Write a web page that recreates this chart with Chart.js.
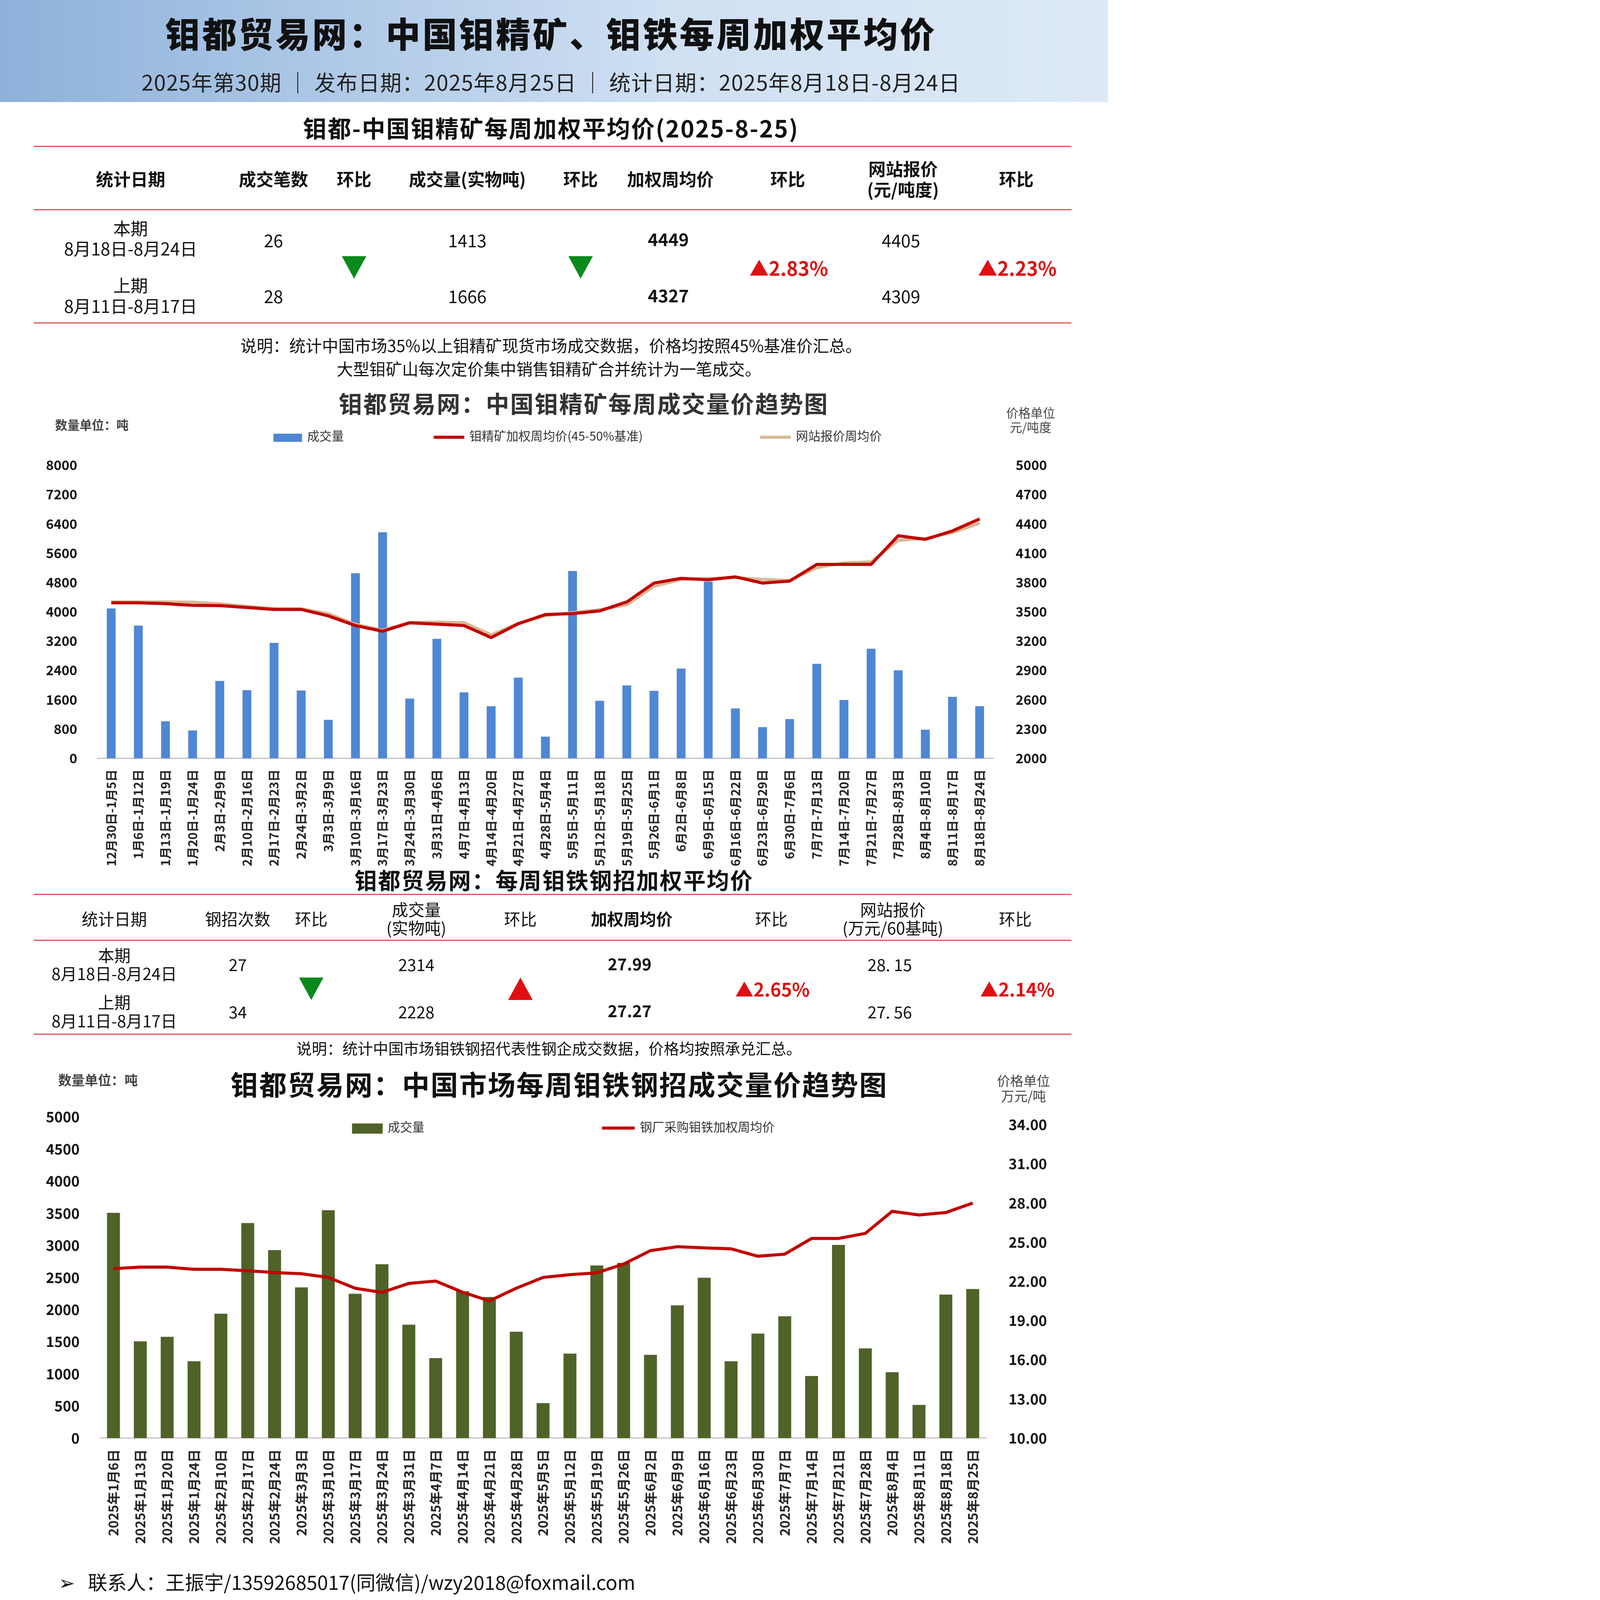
<!DOCTYPE html>
<html><head><meta charset="utf-8">
<script src="https://cdn.jsdelivr.net/npm/chart.js@4"></script>
<style>
html,body{margin:0;padding:0;background:#fff;overflow:hidden;}
#page{position:absolute;left:0;top:0;width:1086px;height:1568px;transform-origin:0 0;font-family:"Noto Sans CJK SC",sans-serif;color:#111;}
#head{position:absolute;left:0;top:0;width:1086px;height:100px;background:linear-gradient(90deg,#8db1da,#cfe0f3 60%,#dde9f6);}
.t{position:absolute;white-space:nowrap;transform:translate(-50%,-50%);line-height:1.15;text-align:center;}
.hl{position:absolute;left:33px;width:1017px;height:0;border-top:1.5px solid #d04040;}
.box{position:absolute;}
.box canvas{width:100%!important;height:100%!important;}
.lg{position:absolute;font-size:12px;color:#333;white-space:nowrap;}
.sw{display:inline-block;vertical-align:middle;margin-right:5px;}
</style></head><body>
<div id="page">
  <div id="head"></div>
  <div class="hl" style="top:143px"></div><div class="hl" style="top:205px"></div><div class="hl" style="top:316px"></div>
  <div class="hl" style="top:876px"></div><div class="hl" style="top:921px"></div><div class="hl" style="top:1013px"></div>
  <div class="box" style="left:33px;top:434px;width:1017px;height:418px"><canvas id="c1"></canvas></div>
  <div class="box" style="left:33px;top:1072px;width:1017px;height:444px"><canvas id="c2"></canvas></div>
</div>
<script>
// 钼精矿周度数据
const weeks1 = ['12月30日-1月5日','1月6日-1月12日','1月13日-1月19日','1月20日-1月24日','2月3日-2月9日','2月10日-2月16日','2月17日-2月23日','2月24日-3月2日','3月3日-3月9日','3月10日-3月16日','3月17日-3月23日','3月24日-3月30日','3月31日-4月6日','4月7日-4月13日','4月14日-4月20日','4月21日-4月27日','4月28日-5月4日','5月5日-5月11日','5月12日-5月18日','5月19日-5月25日','5月26日-6月1日','6月2日-6月8日','6月9日-6月15日','6月16日-6月22日','6月23日-6月29日','6月30日-7月6日','7月7日-7月13日','7月14日-7月20日','7月21日-7月27日','7月28日-8月3日','8月4日-8月10日','8月11日-8月17日','8月18日-8月24日'];
const volume1 = [4080,3610,1000,750,2100,1850,3140,1840,1040,5040,6160,1620,3250,1790,1410,2190,580,5100,1560,1980,1830,2440,4810,1350,840,1060,2570,1580,2980,2390,770,1666,1413];
const weighted1 = [3591,3591,3582,3565,3562,3543,3523,3523,3457,3358,3300,3386,3372,3358,3235,3377,3471,3480,3508,3600,3793,3841,3827,3856,3793,3813,3984,3984,3984,4277,4240,4327,4449];
const website1 = [3600,3600,3600,3598,3580,3555,3532,3530,3480,3370,3310,3390,3392,3388,3262,3380,3460,3490,3520,3570,3760,3830,3840,3850,3830,3820,3950,4000,4010,4230,4250,4309,4405];
const leftTicks1 = [0,800,1600,2400,3200,4000,4800,5600,6400,7200,8000];
const rightTicks1 = [2000,2300,2600,2900,3200,3500,3800,4100,4400,4700,5000];

// 钼铁钢招周度数据
const weeks2 = ['2025年1月6日','2025年1月13日','2025年1月20日','2025年1月24日','2025年2月10日','2025年2月17日','2025年2月24日','2025年3月3日','2025年3月10日','2025年3月17日','2025年3月24日','2025年3月31日','2025年4月7日','2025年4月14日','2025年4月21日','2025年4月28日','2025年5月5日','2025年5月12日','2025年5月19日','2025年5月26日','2025年6月2日','2025年6月9日','2025年6月16日','2025年6月23日','2025年6月30日','2025年7月7日','2025年7月14日','2025年7月21日','2025年7月28日','2025年8月4日','2025年8月11日','2025年8月18日','2025年8月25日'];
const volume2 = [3500,1500,1570,1190,1930,3340,2920,2340,3540,2240,2700,1760,1240,2280,2190,1650,540,1310,2680,2720,1290,2060,2490,1190,1620,1890,960,3000,1390,1020,510,2228,2314];
const price2 = [22.97,23.09,23.09,22.92,22.92,22.81,22.67,22.58,22.30,21.47,21.15,21.84,22.02,21.17,20.50,21.47,22.30,22.51,22.65,23.32,24.35,24.65,24.56,24.49,23.92,24.08,25.28,25.28,25.67,27.36,27.08,27.27,27.99];
const leftTicks2 = [0,500,1000,1500,2000,2500,3000,3500,4000,4500,5000];
const rightTicks2 = [10,13,16,19,22,25,28,31,34];

const page = document.getElementById('page');
const S = Math.min(window.innerWidth / 1086, window.innerHeight / 1568);
page.style.transform = 'scale(' + S + ')';

function txt(x, y, s, st) {
  const d = document.createElement('div');
  d.className = 't';
  d.innerHTML = s;
  d.style.cssText = 'left:' + x + 'px;top:' + y + 'px;' + (st || '');
  page.appendChild(d);
  return d;
}
function tri(x, y, up, color) {
  const d = document.createElement('div');
  d.style.cssText = 'position:absolute;left:' + (x - 12) + 'px;top:' + (y - 11) + 'px;width:0;height:0;border-left:12px solid transparent;border-right:12px solid transparent;' +
    (up ? 'border-bottom:22px solid ' : 'border-top:22px solid ') + color;
  page.appendChild(d);
}
function legend(x, y, html) {
  const d = document.createElement('div');
  d.className = 'lg';
  d.style.left = x + 'px'; d.style.top = y + 'px';
  d.innerHTML = html;
  page.appendChild(d);
}

// 页眉
txt(540, 32, '钼都贸易网：中国钼精矿、钼铁每周加权平均价', 'font-size:34px;font-weight:900;letter-spacing:2px');
txt(540, 80, '2025年第30期 ｜ 发布日期：2025年8月25日 ｜ 统计日期：2025年8月18日-8月24日', 'font-size:21px;color:#222;letter-spacing:0.5px');

// 表一
txt(540, 125, '钼都-中国钼精矿每周加权平均价(2025-8-25)', 'font-size:23px;font-weight:bold;letter-spacing:1px');
const h1 = 'font-size:17px;font-weight:bold';
txt(128, 175, '统计日期', h1); txt(268, 175, '成交笔数', h1); txt(347, 175, '环比', h1);
txt(458, 175, '成交量(实物吨)', h1); txt(569, 175, '环比', h1); txt(657, 175, '加权周均价', h1);
txt(772, 175, '环比', h1); txt(885, 175, '网站报价<br>(元/吨度)', h1); txt(996, 175, '环比', h1);
const c1 = 'font-size:17px';
txt(128, 233, '本期<br>8月18日-8月24日', c1); txt(128, 289, '上期<br>8月11日-8月17日', c1);
txt(268, 235, '26', c1); txt(268, 290, '28', c1);
txt(458, 235, '1413', c1); txt(458, 290, '1666', c1);
txt(655, 234, '4449', c1 + ';font-weight:bold'); txt(655, 289, '4327', c1 + ';font-weight:bold');
txt(883, 235, '4405', c1); txt(883, 290, '4309', c1);
tri(347, 262, false, '#0a8a1a'); tri(569, 262, false, '#0a8a1a');
txt(773, 262, '▲2.83%', 'font-size:19px;font-weight:bold;color:#e01010');
txt(997, 262, '▲2.23%', 'font-size:19px;font-weight:bold;color:#e01010');
txt(540, 338, '说明：统计中国市场35%以上钼精矿现货市场成交数据，价格均按照45%基准价汇总。', 'font-size:16px');
txt(538, 361, '大型钼矿山每次定价集中销售钼精矿合并统计为一笔成交。', 'font-size:16px');

// 图一标题
txt(572, 395, '钼都贸易网：中国钼精矿每周成交量价趋势图', 'font-size:23px;font-weight:bold;color:#333;letter-spacing:1px');
txt(90, 416, '数量单位：吨', 'font-size:12px;font-weight:bold;color:#444');
txt(1010, 411, '价格单位<br>元/吨度', 'font-size:12px;color:#444');
legend(268, 418, '<span class="sw" style="width:28px;height:8px;background:#4f87d4"></span>成交量');
legend(425, 418, '<span class="sw" style="width:30px;height:3px;background:#c00000"></span>钼精矿加权周均价(45-50%基准)');
legend(745, 418, '<span class="sw" style="width:30px;height:3px;background:#d8b894"></span>网站报价周均价');

// 表二
txt(543, 862, '钼都贸易网：每周钼铁钢招加权平均价', 'font-size:22px;font-weight:bold;letter-spacing:1px');
const h2 = 'font-size:16px';
txt(112, 900, '统计日期', h2); txt(233, 900, '钢招次数', h2); txt(305, 900, '环比', h2);
txt(408, 900, '成交量<br>(实物吨)', h2); txt(510, 900, '环比', h2); txt(619, 900, '加权周均价', h2 + ';font-weight:bold');
txt(756, 900, '环比', h2); txt(875, 900, '网站报价<br>(万元/60基吨)', h2); txt(995, 900, '环比', h2);
txt(112, 945, '本期<br>8月18日-8月24日', h2); txt(112, 991, '上期<br>8月11日-8月17日', h2);
txt(233, 945, '27', h2); txt(233, 991, '34', h2);
txt(408, 945, '2314', h2); txt(408, 991, '2228', h2);
txt(617, 944, '27.99', h2 + ';font-weight:bold'); txt(617, 990, '27.27', h2 + ';font-weight:bold');
txt(872, 945, '28. 15', h2); txt(872, 991, '27. 56', h2);
tri(305, 969, false, '#0a8a1a'); tri(510, 969, true, '#e01010');
txt(757, 969, '▲2.65%', 'font-size:18px;font-weight:bold;color:#e01010');
txt(997, 969, '▲2.14%', 'font-size:18px;font-weight:bold;color:#e01010');
txt(538, 1027, '说明：统计中国市场钼铁钢招代表性钢企成交数据，价格均按照承兑汇总。', 'font-size:15px');

// 图二标题
txt(548, 1062, '钼都贸易网：中国市场每周钼铁钢招成交量价趋势图', 'font-size:27px;font-weight:bold;letter-spacing:1px');
txt(96, 1059, '数量单位：吨', 'font-size:13px;font-weight:bold;color:#444');
txt(1003, 1067, '价格单位<br>万元/吨', 'font-size:13px;color:#444');
legend(345, 1095, '<span class="sw" style="width:30px;height:10px;background:#4f6228"></span>成交量');
legend(590, 1095, '<span class="sw" style="width:32px;height:3px;background:#c00000"></span>钢厂采购钼铁加权周均价');

txt(340, 1550, '➢&nbsp;&nbsp;&nbsp;联系人：王振宇/13592685017(同微信)/wzy2018@foxmail.com', 'font-size:19px');

Chart.defaults.font.family = '"Noto Sans CJK SC", sans-serif';
Chart.defaults.color = '#111';
Chart.defaults.animation = false;

function fixTicks(list) {
  return function (scale) { scale.ticks = list.map(v => ({ value: v })); };
}
const dpr = Math.max(2, Math.ceil(S * (window.devicePixelRatio || 1)));

new Chart(document.getElementById('c1'), {
  data: {
    labels: weeks1,
    datasets: [
      { type: 'line', data: weighted1, yAxisID: 'y1', borderColor: '#c00000', borderWidth: 3, pointRadius: 0, tension: 0, order: 1 },
      { type: 'line', data: website1, yAxisID: 'y1', borderColor: '#d8b894', borderWidth: 3, pointRadius: 0, tension: 0, order: 2 },
      { type: 'bar', data: volume1, yAxisID: 'y', backgroundColor: '#4f87d4', barThickness: 8, order: 3 }
    ]
  },
  options: {
    responsive: true, maintainAspectRatio: false, devicePixelRatio: dpr,
    layout: { padding: { top: 6, left: 0, right: 10 } },
    plugins: { legend: { display: false }, tooltip: { enabled: false } },
    scales: {
      x: { grid: { display: false }, border: { color: '#bbb' },
           ticks: { maxRotation: 90, minRotation: 90, autoSkip: false, font: { size: 12, weight: 'bold' }, color: '#222' } },
      y: { min: 0, max: 8000, position: 'left', afterBuildTicks: fixTicks(leftTicks1), grid: { display: false }, border: { display: false },
           ticks: { font: { size: 13, weight: 'bold' }, padding: 12, callback: v => String(v) } },
      y1: { min: 2000, max: 5000, position: 'right', afterBuildTicks: fixTicks(rightTicks1), grid: { display: false }, border: { display: false },
            ticks: { font: { size: 13, weight: 'bold' }, padding: 14, callback: v => String(v) } }
    }
  }
});

new Chart(document.getElementById('c2'), {
  data: {
    labels: weeks2,
    datasets: [
      { type: 'line', data: price2, yAxisID: 'y1', borderColor: '#c00000', borderWidth: 3, pointRadius: 0, tension: 0, order: 1 },
      { type: 'bar', data: volume2, yAxisID: 'y', backgroundColor: '#4f6228', barThickness: 12, order: 2 }
    ]
  },
  options: {
    responsive: true, maintainAspectRatio: false, devicePixelRatio: dpr,
    layout: { padding: { top: 14, left: 0, right: 10 } },
    plugins: { legend: { display: false }, tooltip: { enabled: false } },
    scales: {
      x: { grid: { display: false }, border: { color: '#bbb' },
           ticks: { maxRotation: 90, minRotation: 90, autoSkip: false, font: { size: 13, weight: 'bold' }, color: '#222' } },
      y: { min: 0, max: 5000, position: 'left', afterBuildTicks: fixTicks(leftTicks2), grid: { display: false }, border: { display: false },
           ticks: { font: { size: 14, weight: 'bold' }, padding: 12, callback: v => String(v) } },
      y1: { min: 10, max: 34.6, position: 'right', afterBuildTicks: fixTicks(rightTicks2), grid: { display: false }, border: { display: false },
            ticks: { font: { size: 14, weight: 'bold' }, padding: 14, callback: v => v.toFixed(2) } }
    }
  }
});
</script>
</body></html>
